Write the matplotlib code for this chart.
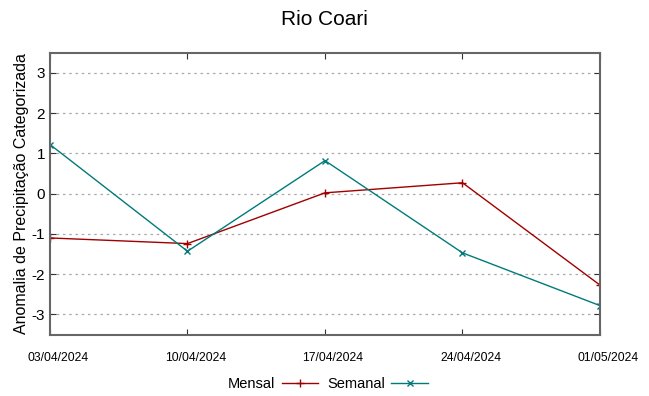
import matplotlib
matplotlib.use("Agg")
import matplotlib.pyplot as plt

plt.rcParams['font.family'] = ['Liberation Sans', 'DejaVu Sans']

dates = ["03/04/2024", "10/04/2024", "17/04/2024", "24/04/2024", "01/05/2024"]
mensal = [-1.10, -1.24, 0.02, 0.27, -2.27]
semanal = [1.22, -1.43, 0.82, -1.47, -2.78]
yticks = [-3, -2, -1, 0, 1, 2, 3]

fig = plt.figure(figsize=(6.49, 3.96), dpi=100)
ax = fig.add_axes([0.077, 0.155, 0.8475, 0.712])
x = list(range(len(dates)))
ax.plot(x, mensal, color='#a00000', lw=1.0, marker='+', ms=6, mew=1.0, label='Mensal')
ax.plot(x, semanal, color='#007a7a', lw=1.0, marker='x', ms=5, mew=1.0, label='Semanal')
ax.set_xlim(0, 4)
ax.set_ylim(-3.5, 3.5)
ax.set_xticks(x)
ax.set_xticklabels([])
for xi, d in zip(x, dates):
    ax.annotate(d, xy=(xi, 0), xycoords=('data', 'axes fraction'),
                xytext=(5.8, -16.5), textcoords='offset points',
                ha='center', va='center', fontsize=8.7, annotation_clip=False)
ax.set_yticks(yticks)
ax.set_yticklabels([str(v) for v in yticks], fontsize=11)
ax.tick_params(axis='both', direction='in', length=4, color='#333333', top=True, right=True)
ax.grid(axis='y', linestyle=(0, (2, 3)), color='#aaaaaa', lw=0.9)
for s in ax.spines.values():
    s.set_color('#666666')
    s.set_linewidth(1.5)
ax.set_ylabel('Anomalia de Precipitação Categorizada', fontsize=11.5, labelpad=2)
fig.suptitle('Rio Coari', fontsize=15, y=0.975)
fig.legend(loc='center', bbox_to_anchor=(0.505, 0.03), ncol=2, frameon=False,
           markerfirst=False, fontsize=10.5, handlelength=2.5, columnspacing=0.6, handletextpad=0.45)
fig.savefig('out.png', dpi=100)
